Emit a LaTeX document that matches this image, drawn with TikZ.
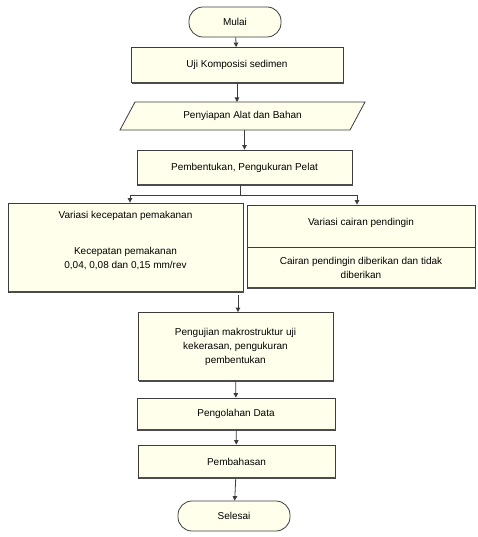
\documentclass[tikz,border=0pt]{standalone}
\usepackage{fontspec}
\setmainfont{Liberation Sans}
\usetikzlibrary{arrows.meta,calc}
\definecolor{cream}{RGB}{255,255,236}
\definecolor{edge}{RGB}{60,60,60}
\tikzset{
  txt/.style={font=\fontsize{10}{14}\selectfont, align=center},
  box/.style={draw=edge, line width=0.8pt, fill=cream, minimum width=#1, inner sep=2pt, txt},
  term/.style={draw=edge, line width=0.8pt, fill=cream, rounded corners=14pt, minimum width=#1, minimum height=30pt, txt},
  conn/.style={draw=edge, line width=0.8pt, -{Triangle[width=4.5pt,length=4.5pt]}},
  plain/.style={draw=edge, line width=0.8pt},
  shade/.style={draw=black!70, line width=2pt},
}
\begin{document}
\begin{tikzpicture}[x=1pt,y=-1pt]
\fill[white] (0,0) rectangle (477,537);
% nodes
\node[term=92pt] (mulai) at (235,22) {Mulai};
\node[box=212pt, minimum height=35pt] (uji) at (237,65) {Uji Komposisi sedimen};
\node[minimum width=230pt, minimum height=28pt, inner sep=0pt, txt] (siap) at (242.5,116) {};
\path[plain, fill=cream] (135,102) -- (365,102) -- (350,130) -- (120,130) -- cycle;
\node[txt] at (siap) {Penyiapan Alat dan Bahan};
\node[box=215pt, minimum height=35pt] (pemb) at (244.5,167.5) {Pembentukan, Pengukuran Pelat};
\node[box=235pt, minimum height=89pt] (kiri) at (125.5,247.5) {};
\node[txt] (kiria) at (125.5,216) {Variasi kecepatan pemakanan};
\node[txt] (kirib) at (125.5,259) {Kecepatan pemakanan\\0,04, 0,08 dan 0,15 mm/rev};
\node[box=228pt, minimum height=83pt] (kanan) at (361,246.5) {};
\draw[plain] (kanan.west |- 0,247) -- (kanan.east |- 0,247);
\node[txt] (kanana) at (361,223) {Variasi cairan pendingin};
\node[txt] (kananb) at (361,268) {Cairan pendingin diberikan dan tidak\\diberikan};
\node[box=195pt, minimum height=68pt] (uj2) at (235.5,346.5) {Pengujian makrostruktur uji\\kekerasan, pengukuran\\pembentukan};
\node[box=198pt, minimum height=32pt] (olah) at (236,414) {Pengolahan Data};
\node[box=197pt, minimum height=33pt] (bahas) at (236.5,461.5) {Pembahasan};
\node[term=112pt] (selesai) at (234,516) {Selesai};
% shadows on bottom edges
\foreach \n in {uji,pemb,kiri,kanan,uj2,olah,bahas}{
  \draw[shade] ($(\n.south west)+(1,0)$) -- ($(\n.south east)+(1,0)$);
}
% connectors
\draw[conn] (mulai) -- (uji);
\draw[conn] (uji) -- (uji.south |- 0,102);
\draw[conn] (siap.south -| pemb.north) -- (pemb);
\coordinate (sp) at (240,195);
\coordinate (spl) at (130,195);
\coordinate (spr) at (357,195);
\draw[plain] (pemb.south -| sp) -- (sp);
\draw[conn] (sp) -- (spl) -- (spl |- kiri.north);
\draw[conn] (sp) -- (spr) -- (spr |- kanan.north);
\coordinate (mg) at (238,295);
\draw[conn] (mg) -- (mg |- uj2.north);
\draw[conn] (uj2) -- (olah);
\draw[conn] (olah) -- (bahas);
\draw[conn] (bahas) -- (selesai);
\end{tikzpicture}
\end{document}
